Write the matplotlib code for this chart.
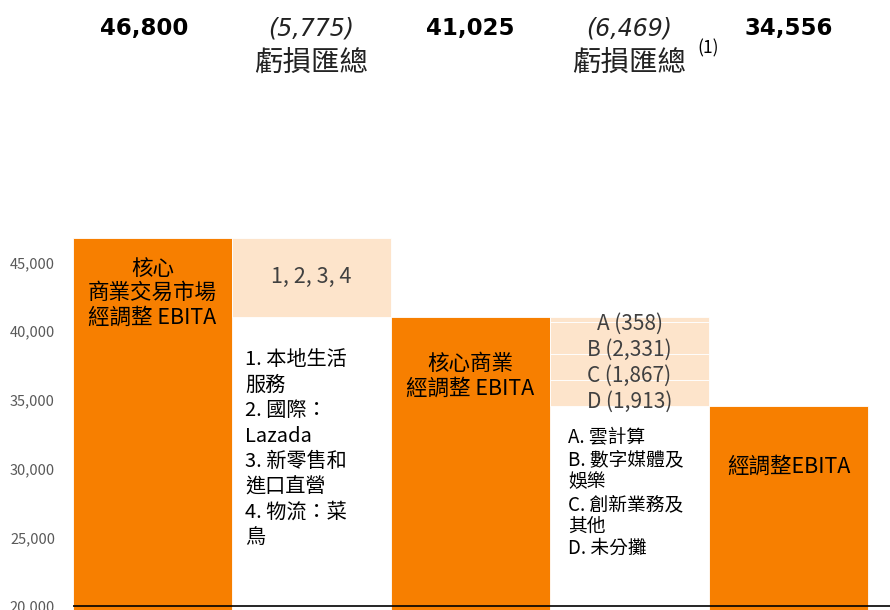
import matplotlib
matplotlib.use("Agg")
import matplotlib.pyplot as plt
import matplotlib.ticker as mticker

plt.rcParams['font.family'] = ['Noto Sans CJK TC', 'DejaVu Sans']

# data
steps = ['核心\n商業交易市場\n經調整 EBITA', '1, 2, 3, 4', '核心商業\n經調整 EBITA', 'A-D', '經調整EBITA']
core_commerce = 46800
loss_core = 5775
core_adj = 41025
loss_other = [358, 2331, 1867, 1913]
loss_other_lbl = ['A', 'B', 'C', 'D']
total_adj = 34556
top_lbl = ['46,800', '(5,775)', '41,025', '(6,469)', '34,556']
list1 = '1. 本地生活\n服務\n2. 國際：\nLazada\n3. 新零售和\n進口直營\n4. 物流：菜\n鳥'
list2 = 'A. 雲計算\nB. 數字媒體及\n娛樂\nC. 創新業務及\n其他\nD. 未分攤'
yticks = [20000, 25000, 30000, 35000, 40000, 45000]

ORANGE = '#F77F00'
PEACH = '#FDE4CB'

fig = plt.figure(figsize=(8.9, 6.1), dpi=100)
ax = fig.add_axes([73/890, 0, 817/890, 1])

# full bars
ax.bar([0, 2, 4], [core_commerce, core_adj, total_adj], width=1.0, color=ORANGE,
       edgecolor='white', linewidth=0.6, zorder=2)
# bridge 1
ax.bar(1, loss_core, bottom=core_commerce - loss_core, width=1.0, color=PEACH,
       edgecolor='white', linewidth=0.6, zorder=2)
# bridge 2, stacked segments
top = core_adj
for v in loss_other:
    ax.bar(3, v, bottom=top - v, width=1.0, color=PEACH, edgecolor='white',
           linewidth=0.6, zorder=2)
    top -= v

ax.axhline(20000, color='black', lw=1.2, zorder=3)

ax.set_xlim(-0.5, 4.638)
ax.set_ylim(19709, 64105)
ax.set_yticks(yticks)
ax.yaxis.set_major_formatter(mticker.StrMethodFormatter('{x:,.0f}'))
ax.tick_params(axis='y', length=0, pad=13, labelsize=10.5, labelcolor='#595959')
ax.set_xticks([])
for s in ax.spines.values():
    s.set_visible(False)

tr = ax.get_xaxis_transform()
# header row
for i, t in enumerate(top_lbl):
    if i in (1, 3):
        ax.text(i, 0.954, t, transform=tr, ha='center', va='center', fontsize=17,
                style='italic', family='DejaVu Sans', color='#222222')
        ax.text(i, 0.896, '虧損匯總', transform=tr, ha='center', va='center',
                fontsize=20.5, style='italic', color='#222222')
    else:
        ax.text(i - (0.05 if i == 0 else 0), 0.954, t, transform=tr, ha='center',
                va='center', fontsize=16.5, fontweight='bold',
                family='DejaVu Sans', color='black')
ax.text(3.425, 0.921, '(1)', transform=tr, ha='left', va='center', fontsize=12.5)

# bar labels
ax.text(0, 42780, steps[0], ha='center', va='center', fontsize=15.5, linespacing=1.13)
ax.text(1, core_commerce - loss_core / 2, steps[1], ha='center', va='center',
        fontsize=15.5, color='#404040')
ax.text(0.582, 38700, list1, ha='left', va='top', fontsize=14.5, linespacing=1.28)
ax.text(2, 36700, steps[2], ha='center', va='center', fontsize=15.5, linespacing=1.17)
seg_txt = '\n'.join(f'{l} ({v:,})' for l, v in zip(loss_other_lbl, loss_other))
ax.text(3, 37700, seg_txt, ha='center', va='center', fontsize=15,
        color='#404040', linespacing=1.23)
ax.text(2.613, 33000, list2, ha='left', va='top', fontsize=13.5, linespacing=1.07)
ax.text(4, 30116, steps[4], ha='center', va='center', fontsize=15.5)

fig.savefig('out.png', dpi=100)
